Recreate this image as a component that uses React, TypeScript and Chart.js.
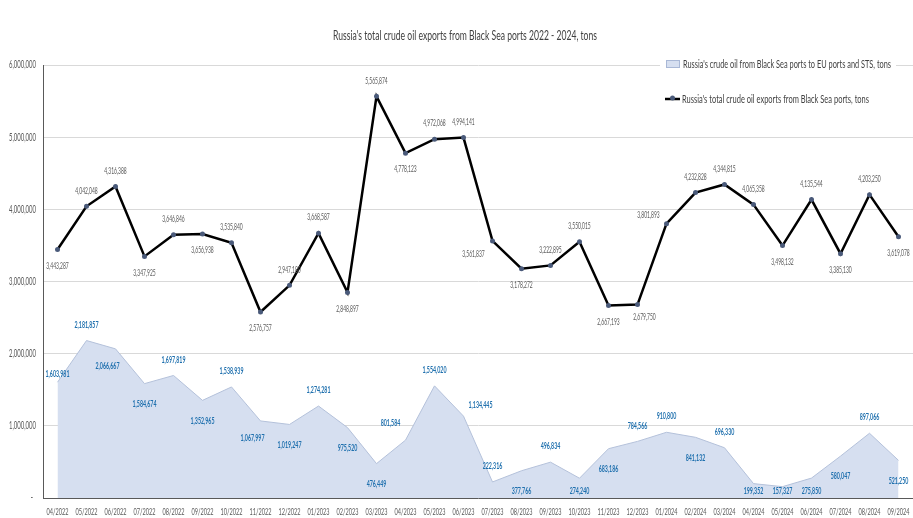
import React, { useEffect, useRef } from 'react';
import { Chart, registerables } from 'chart.js';

Chart.register(...registerables);

const months = [
  '04/2022', '05/2022', '06/2022', '07/2022', '08/2022', '09/2022', '10/2022', '11/2022', '12/2022',
  '01/2023', '02/2023', '03/2023', '04/2023', '05/2023', '06/2023', '07/2023', '08/2023', '09/2023',
  '10/2023', '11/2023', '12/2023', '01/2024', '02/2024', '03/2024', '04/2024', '05/2024', '06/2024',
  '07/2024', '08/2024', '09/2024',
];

const totalExports = [
  3443287, 4042048, 4316388, 3347925, 3646846, 3656938, 3535840, 2576757, 2947180,
  3668587, 2848897, 5565874, 4778123, 4972068, 4994141, 3561837, 3178272, 3222895,
  3550015, 2667193, 2679750, 3801893, 4232828, 4344815, 4065358, 3498132, 4135544,
  3385130, 4203250, 3619078,
];

const euExports = [
  1603981, 2181857, 2066667, 1584674, 1697819, 1352965, 1538939, 1067997, 1019247,
  1274281, 975520, 476449, 801584, 1554020, 1134445, 222316, 377766, 496834,
  274240, 683186, 784566, 910800, 841132, 696330, 199352, 157327, 275850,
  580047, 897066, 521250,
];

const yMax = 6000000;
const yStep = 1000000;

const titleText = "Russia's total crude oil exports from Black Sea ports 2022 - 2024, tons";
const euLabel = "Russia's crude oil from Black Sea ports to EU ports and STS, tons";
const totalLabel = "Russia's total crude oil exports from Black Sea ports, tons";

// label placement codes (Excel-like manual placement)
const totalLabelPos = [
  'b', 'a', 'a', 'b', 'a', 'b', 'a', 'b', 'a', 'a', 'b', 'a', 'b', 'a', 'a', 'lb', 'b', 'a',
  'a', 'b', 'br', 'la', 'a', 'a', 'a', 'b', 'a', 'b', 'a', 'b',
];
const euLabelPos = [
  'c', 'a', 'bl', 'b', 'a', 'b', 'a', 'bl', 'b', 'a', 'b', 'b', 'al', 'a', 'ar', 'a', 'b', 'a',
  'b', 'b', 'a', 'a', 'b', 'a', 'b', 'b', 'b', 'b', 'a', 'b',
];

const FONT = 'Lato, "Liberation Sans", sans-serif';

const LINE_OFF: Record<string, [number, number]> = {
  a: [0, -16], b: [0, 16], lb: [-19, 13], la: [-18, -9], br: [7, 12],
};
const AREA_OFF: Record<string, [number, number]> = {
  a: [0, -16], b: [0, 20], c: [0, -8], bl: [-8, 17], al: [-15, -17], ar: [17, -11],
};

function drawSqueezed(ctx: CanvasRenderingContext2D, text: string, x: number, y: number, font: string, color: string, sx: number, align: CanvasTextAlign = 'center') {
  ctx.save();
  ctx.font = font;
  ctx.fillStyle = color;
  ctx.textAlign = align;
  ctx.textBaseline = 'middle';
  ctx.translate(x, y);
  ctx.scale(sx, 1);
  ctx.fillText(text, 0, 0);
  ctx.restore();
}

function squeezeFor(ctx: CanvasRenderingContext2D, sample: string, font: string, width: number) {
  ctx.save();
  ctx.font = font;
  const w = ctx.measureText(sample).width;
  ctx.restore();
  return w > 0 ? width / w : 1;
}

function drawFit(ctx: CanvasRenderingContext2D, text: string, x: number, y: number, font: string, color: string, width: number, align: CanvasTextAlign) {
  drawSqueezed(ctx, text, x, y, font, color, squeezeFor(ctx, text, font, width), align);
}

const fmt = (v: number) => v.toLocaleString('en-US');
const yTickText = (v: number) => (v === 0 ? '-' : fmt(v));

const decorPlugin = {
  id: 'decor',
  afterDatasetsDraw(chart: any) {
    const ctx: CanvasRenderingContext2D = chart.ctx;
    const bottom = chart.chartArea.bottom;
    const lineMeta = chart.getDatasetMeta(0);
    const areaMeta = chart.getDatasetMeta(1);
    const areaFont = 'bold 10px ' + FONT;
    const lineFont = '10px ' + FONT;
    const sArea = squeezeFor(ctx, '1,603,981', areaFont, 24);
    const sLine = squeezeFor(ctx, '3,443,287', lineFont, 22.5);
    areaMeta.data.forEach((pt: any, i: number) => {
      const off = AREA_OFF[euLabelPos[i]] || [0, -16];
      let y = pt.y + off[1];
      if (y > bottom - 7) y = bottom - 7;
      drawSqueezed(ctx, fmt(euExports[i]), pt.x + off[0], y, areaFont, '#1F70AE', sArea);
    });
    lineMeta.data.forEach((pt: any, i: number) => {
      const off = LINE_OFF[totalLabelPos[i]] || [0, -16];
      drawSqueezed(ctx, fmt(totalExports[i]), pt.x + off[0], pt.y + off[1], lineFont, '#595959', sLine);
    });
  },
  afterDraw(chart: any) {
    const ctx: CanvasRenderingContext2D = chart.ctx;
    // axis tick labels, positioned by the chart's own scales
    const xs = chart.scales.x;
    const ys = chart.scales.y;
    const xFont = '9.5px ' + FONT;
    const yFont = '10.5px ' + FONT;
    const sx = squeezeFor(ctx, '04/2022', xFont, 22);
    const sy = squeezeFor(ctx, '6,000,000', yFont, 27);
    xs.ticks.forEach((t: any, i: number) => {
      const lbl = chart.data.labels[t.value];
      drawSqueezed(ctx, String(lbl), xs.getPixelForTick(i), xs.bottom - 6, xFont, '#595959', sx);
    });
    ys.ticks.forEach((t: any) => {
      const v = Number(t.value);
      const px = ys.getPixelForValue(v);
      drawSqueezed(ctx, yTickText(v), v === 0 ? 33 : 36, px, yFont, '#595959', sy, 'right');
    });
    // title
    drawFit(ctx, titleText, 465, 36, '13px ' + FONT, '#404040', 264, 'center');
    // legend
    ctx.save();
    ctx.fillStyle = '#ffffff';
    ctx.fillRect(660, 56, 236, 16);
    ctx.fillStyle = '#D6DFF0';
    ctx.fillRect(666, 60, 13, 7);
    ctx.strokeStyle = '#A9B8D6';
    ctx.lineWidth = 1;
    ctx.strokeRect(666.5, 60.5, 13, 7);
    ctx.strokeStyle = '#000000';
    ctx.lineWidth = 2.5;
    ctx.beginPath();
    ctx.moveTo(665, 99);
    ctx.lineTo(680, 99);
    ctx.stroke();
    ctx.fillStyle = '#4A5A7A';
    ctx.beginPath();
    ctx.arc(672.5, 98, 2.5, 0, Math.PI * 2);
    ctx.fill();
    ctx.restore();
    drawFit(ctx, euLabel, 683, 64, '11.5px ' + FONT, '#404040', 208, 'left');
    drawFit(ctx, totalLabel, 682, 99, '11.5px ' + FONT, '#404040', 187, 'left');
  },
};

export default function App() {
  const canvasRef = useRef<HTMLCanvasElement | null>(null);

  useEffect(() => {
    const canvas = canvasRef.current;
    if (!canvas) return;
    const chart = new Chart(canvas, {
      type: 'line',
      data: {
        labels: months,
        datasets: [
          {
            label: totalLabel,
            data: totalExports,
            borderColor: '#000000',
            borderWidth: 2.5,
            pointRadius: 2.5,
            pointBackgroundColor: '#4A5A7A',
            pointBorderColor: '#4A5A7A',
            pointBorderWidth: 0,
            fill: false,
            tension: 0,
          },
          {
            label: euLabel,
            data: euExports,
            borderColor: '#B4C1DA',
            borderWidth: 1,
            backgroundColor: '#D6DFF0',
            pointRadius: 0,
            fill: 'origin',
            tension: 0,
          },
        ],
      },
      options: {
        animation: false,
        responsive: false,
        devicePixelRatio: 1,
        layout: { padding: { top: 65, left: 0, right: 0, bottom: 0 } },
        plugins: {
          legend: { display: false },
          title: { display: false },
          tooltip: { enabled: false },
        },
        scales: {
          x: {
            offset: true,
            grid: { display: false, drawTicks: false },
            border: { display: true, color: '#595959', width: 1 },
            ticks: { display: false, autoSkip: false, maxRotation: 0 },
            afterFit(scale: any) { scale.height = 20; },
          },
          y: {
            min: 0,
            max: yMax,
            grid: { color: '#D9D9D9', lineWidth: 1, drawTicks: false },
            border: { display: true, color: '#595959', width: 1 },
            ticks: {
              display: false,
              stepSize: yStep,
              callback: (v: any) => yTickText(Number(v)),
            },
            afterFit(scale: any) { scale.width = 43; },
          },
        },
      },
      plugins: [decorPlugin],
    });
    return () => chart.destroy();
  }, []);

  return (
    <div style={{ position: 'fixed', left: 0, top: 0, width: 913, height: 518, overflow: 'hidden', background: '#fff' }}>
      <canvas ref={canvasRef} width={917} height={518} style={{ display: 'block', width: 917, height: 518 }} />
    </div>
  );
}
